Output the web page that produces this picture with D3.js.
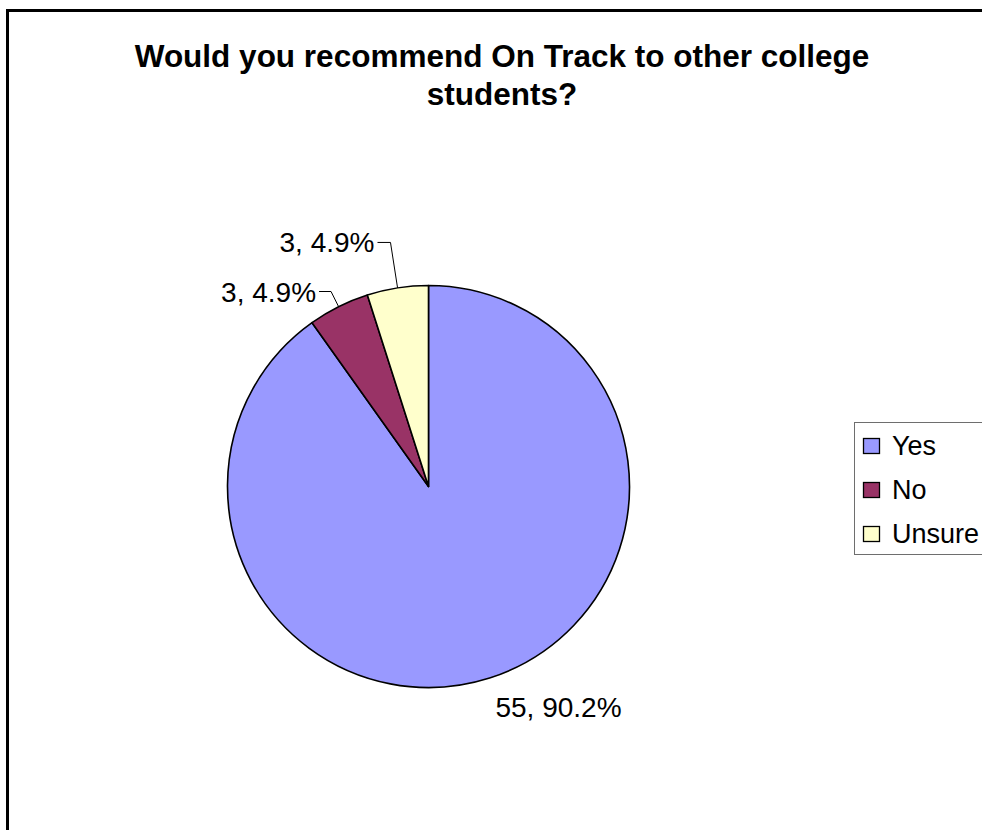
<!DOCTYPE html>
<html>
<head>
<meta charset="utf-8">
<script src="https://cdn.jsdelivr.net/npm/d3@7"></script>
<style>
  html, body { margin: 0; padding: 0; background: #fff; }
  svg { display: block; }
  text { font-family: "Liberation Sans", Arial, sans-serif; fill: #000; }
</style>
</head>
<body>
<svg id="chart" width="982" height="830"></svg>
<script>
// Survey responses
const categories = ["Yes", "No", "Unsure"];
const counts = [55, 3, 3];
const percents = ["90.2%", "4.9%", "4.9%"];
const colors = ["#9999FF", "#993366", "#FFFFCC"];
const titleLines = ["Would you recommend On Track to other college", "students?"];

const W = 982, H = 830;
const cx = 428.5, cy = 486.5, R = 201;

const svg = d3.select("#chart");

// outer frame (right and bottom edges run past the page)
svg.append("rect")
  .attr("x", 7.5).attr("y", 10.5)
  .attr("width", 1100).attr("height", 1100)
  .attr("fill", "none").attr("stroke", "#000").attr("stroke-width", 3);

// title
const title = svg.append("text")
  .attr("text-anchor", "middle")
  .style("font-weight", "bold")
  .style("font-size", "31.5px");
titleLines.forEach((t, i) => {
  title.append("tspan").attr("x", 502).attr("y", 67 + i * 38).text(t);
});

// pie, clockwise from 12 o'clock in category order
const pie = d3.pie().sort(null).value(d => d);
const arcs = pie(counts);
const arc = d3.arc().innerRadius(0).outerRadius(R);

const g = svg.append("g").attr("transform", `translate(${cx},${cy})`);
g.selectAll("path.slice")
  .data(arcs)
  .enter().append("path")
  .attr("class", "slice")
  .attr("d", arc)
  .attr("fill", (d, i) => colors[i])
  .attr("stroke", "#000")
  .attr("stroke-width", 1.6)
  .attr("stroke-linejoin", "round");

// data labels: elbow radius along the slice mid-angle, then a short horizontal run
const labelLayout = [
  { leader: false, dx: 130, dy: 230, anchor: "middle" },
  { leader: true, elbowR: 218, run: -12, anchor: "end" },
  { leader: true, elbowR: 247, run: -13, anchor: "end" }
];
const polar = (a, r) => [r * Math.sin(a), -r * Math.cos(a)];

arcs.forEach((d, i) => {
  const mid = (d.startAngle + d.endAngle) / 2;
  const L = labelLayout[i];
  const label = `${counts[i]}, ${percents[i]}`;
  if (L.leader) {
    const edge = polar(mid, R);
    const elbow = polar(mid, L.elbowR);
    const end = [elbow[0] + L.run, elbow[1]];
    g.append("polyline")
      .attr("points", [edge, elbow, end].map(p => p.join(",")).join(" "))
      .attr("fill", "none").attr("stroke", "#000").attr("stroke-width", 1);
    g.append("text")
      .attr("x", end[0] - 3).attr("y", end[1] + 10)
      .attr("text-anchor", L.anchor)
      .style("font-size", "28px")
      .text(label);
  } else {
    g.append("text")
      .attr("x", L.dx).attr("y", L.dy)
      .attr("text-anchor", L.anchor)
      .style("font-size", "28px")
      .text(label);
  }
});

// legend
const lg = svg.append("g").attr("transform", "translate(854,422)");
lg.append("rect")
  .attr("x", 0.5).attr("y", 0.5)
  .attr("width", 200).attr("height", 132)
  .attr("fill", "#fff").attr("stroke", "#6e6e6e").attr("stroke-width", 1);
const item = lg.selectAll("g.item")
  .data(categories)
  .enter().append("g")
  .attr("class", "item")
  .attr("transform", (d, i) => `translate(0,${i * 44})`);
item.append("rect")
  .attr("x", 9.5).attr("y", 16.5)
  .attr("width", 16).attr("height", 15)
  .attr("fill", (d, i) => colors[i])
  .attr("stroke", "#000").attr("stroke-width", 1.3);
item.append("text")
  .attr("x", 38).attr("y", 33)
  .style("font-size", "27px")
  .text(d => d);
</script>
</body>
</html>
